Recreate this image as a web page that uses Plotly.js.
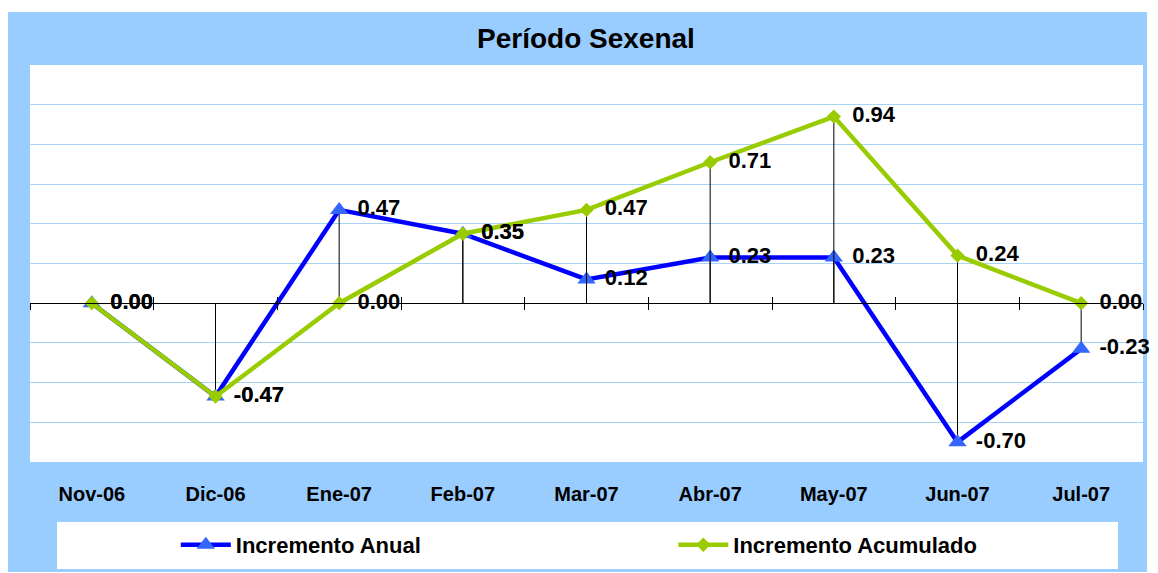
<!DOCTYPE html>
<html>
<head>
<meta charset="utf-8">
<script src="https://cdn.plot.ly/plotly-3.0.1.min.js"></script>
<style>
  body { margin: 0; background: #ffffff; }
  #plot { width: 1158px; height: 573px; }
</style>
</head>
<body>
<div id="plot"></div>
<script>
// Chart data
const months = ["Nov-06", "Dic-06", "Ene-07", "Feb-07", "Mar-07", "Abr-07", "May-07", "Jun-07", "Jul-07"];
const incrementoAnual = [0.00, -0.47, 0.47, 0.35, 0.12, 0.23, 0.23, -0.70, -0.23];
const incrementoAcumulado = [0.00, -0.47, 0.00, 0.35, 0.47, 0.71, 0.94, 0.24, 0.00];

const plotDiv = document.getElementById("plot");
const fontFamily = "Liberation Sans, Arial, sans-serif";
const labelFont = { family: fontFamily, size: 22, color: "#000000", weight: 'bold' };

// drop lines from each point down (or up) to the zero axis
function dropLines(values) {
  return {
    type: 'data',
    symmetric: false,
    array: values.map(v => (v < 0 ? -v : 0)),
    arrayminus: values.map(v => (v > 0 ? v : 0)),
    color: '#000000',
    thickness: 1,
    width: 0
  };
}

// value labels drawn as text-only traces so both series get the same offset
function valueLabels(values) {
  return {
    x: xIndex,
    y: values,
    type: 'scatter',
    mode: 'text',
    texttemplate: '\u00a0\u00a0\u00a0%{y:.2f}',
    textposition: 'middle right',
    textfont: labelFont,
    showlegend: false,
    hoverinfo: 'skip',
    cliponaxis: false
  };
}

const xIndex = months.map((_, i) => i);
const boundaries = Array.from({ length: months.length + 1 }, (_, i) => i - 0.5);

const data = [
  {
    x: xIndex,
    y: incrementoAnual,
    type: 'scatter',
    mode: 'lines+markers',
    name: 'Incremento Anual',
    legend: 'legend',
    line: { color: '#0000FF', width: 4.5 },
    marker: { symbol: 'triangle-up', size: 16, color: '#3366FF' },
    error_y: dropLines(incrementoAnual),
    cliponaxis: false
  },
  {
    x: xIndex,
    y: incrementoAcumulado,
    type: 'scatter',
    mode: 'lines+markers',
    name: 'Incremento Acumulado',
    legend: 'legend2',
    line: { color: '#99CC00', width: 4.5 },
    marker: { symbol: 'diamond', size: 11, color: '#99CC00' },
    error_y: dropLines(incrementoAcumulado),
    cliponaxis: false
  },
  valueLabels(incrementoAnual),
  valueLabels(incrementoAcumulado),
  // empty traces so the zero-line axes get drawn
  { x: [], y: [], xaxis: 'x2', type: 'scatter', showlegend: false, hoverinfo: 'skip' },
  { x: [], y: [], xaxis: 'x3', type: 'scatter', showlegend: false, hoverinfo: 'skip' }
];

// zero axis line with crossing tick marks (two overlaid axes)
const zeroAxis = {
  overlaying: 'x',
  anchor: 'free',
  position: 0.4,
  range: [-0.5, months.length - 0.5],
  tickmode: 'array',
  tickvals: boundaries,
  ticklen: 6,
  tickcolor: '#000000',
  tickwidth: 1,
  showline: true,
  linecolor: '#000000',
  linewidth: 1,
  showgrid: false,
  zeroline: false,
  showticklabels: false
};

const legendBase = {
  orientation: 'h',
  y: -0.209, yanchor: 'middle',
  xanchor: 'left',
  bgcolor: 'rgba(0,0,0,0)',
  itemwidth: 50,
  font: { family: fontFamily, size: 22, color: '#000000', weight: 'bold' }
};

const layout = {
  width: 1158,
  height: 573,
  margin: { l: 30, r: 15, t: 65, b: 111, autoexpand: false },
  paper_bgcolor: '#ffffff',
  plot_bgcolor: 'rgba(0,0,0,0)',
  showlegend: true,
  title: {
    text: 'Período Sexenal',
    font: { family: fontFamily, size: 28, color: '#000000', weight: 'bold' },
    x: 0.506, xanchor: 'center',
    y: 0.934, yanchor: 'middle'
  },
  xaxis: {
    range: [-0.5, months.length - 0.5],
    tickmode: 'array',
    tickvals: xIndex,
    ticktext: months,
    tickfont: { family: fontFamily, size: 20, color: '#000000', weight: 'bold' },
    ticks: '',
    ticklabelstandoff: 18,
    automargin: false,
    showline: false,
    showgrid: false,
    zeroline: false
  },
  xaxis2: Object.assign({}, zeroAxis, { ticks: 'outside' }),
  xaxis3: Object.assign({}, zeroAxis, { ticks: 'inside' }),
  yaxis: {
    range: [-0.8, 1.2],
    dtick: 0.2,
    showticklabels: false,
    ticks: '',
    showgrid: true,
    gridcolor: '#A9D2F7',
    gridwidth: 1,
    zeroline: false,
    showline: false
  },
  legend: Object.assign({}, legendBase, { x: 0.131 }),
  legend2: Object.assign({}, legendBase, { x: 0.578 }),
  shapes: [
    // outer light blue frame
    { type: 'rect', xref: 'paper', yref: 'paper', x0: -0.0198, x1: 1.0036, y0: -0.2771, y1: 1.1335,
      fillcolor: '#99CCFF', line: { width: 0 }, layer: 'below' },
    // white plot area
    { type: 'rect', xref: 'paper', yref: 'paper', x0: 0, x1: 1, y0: 0, y1: 1,
      fillcolor: '#ffffff', line: { width: 0 }, layer: 'below' },
    // legend white box
    { type: 'rect', xref: 'paper', yref: 'paper', x0: 0.0243, x1: 0.9775, y0: -0.2695, y1: -0.1511,
      fillcolor: '#ffffff', line: { width: 0 }, layer: 'below' }
  ]
};

Plotly.newPlot(plotDiv, data, layout, { displayModeBar: false });
</script>
</body>
</html>
